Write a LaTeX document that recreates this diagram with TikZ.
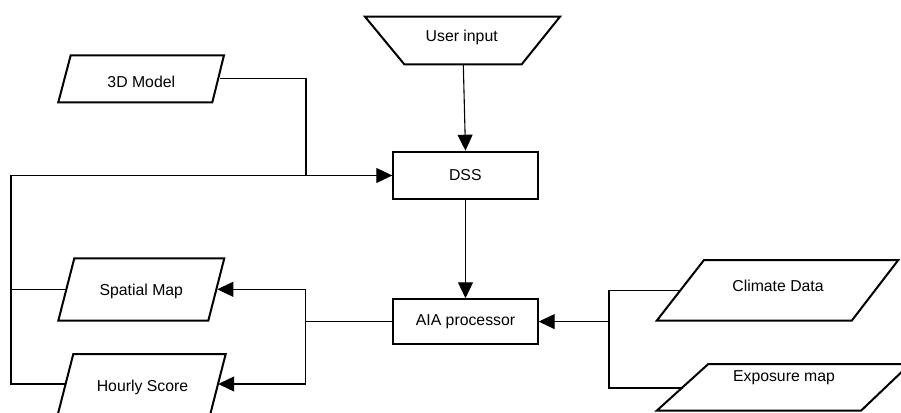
\documentclass[tikz,border=0pt]{standalone}
\usepackage{fontspec}
\setmainfont{Liberation Sans}
\usetikzlibrary{arrows.meta}

\begin{document}
\begin{tikzpicture}[x=1pt,y=-1pt,
  shapeline/.style={draw=black,line width=2pt,fill=white,line join=miter},
  box/.style={shapeline,rectangle,inner sep=0pt},
  label/.style={font=\fontsize{15.8}{18}\selectfont,anchor=base,inner sep=0pt},
  wire/.style={draw=black,line width=1.1pt},
  arr/.style={wire,-{Triangle[length=16pt,width=15pt]}}]

\useasboundingbox (0,0) rectangle (901,412);
\clip (0,0) rectangle (901,412);

% input / output shapes
\draw[shapeline] (365,16.7) -- (560,16.7) -- (521.7,64.3) -- (404.3,64.3) -- cycle;
\draw[shapeline] (70.7,55.3) -- (224,55.3) -- (212.3,102.3) -- (58.3,102.3) -- cycle;
\draw[shapeline] (74.3,258.3) -- (224.3,258.3) -- (208.3,320.7) -- (58.3,320.7) -- cycle;
\draw[shapeline] (73.3,354) -- (225.7,354) -- (209.7,416.4) -- (57.3,416.4) -- cycle;
\draw[shapeline] (704,260) -- (898.3,260) -- (851.7,320.7) -- (656.7,320.7) -- cycle;
\draw[shapeline] (708.3,364) -- (910,364) -- (861,410.7) -- (656.7,410.7) -- cycle;

% process boxes
\node[box,minimum width=144.4pt,minimum height=47.6pt] (dss) at (465.5,175.5) {};
\node[box,minimum width=144.4pt,minimum height=44.7pt] (aia) at (465.5,321.6) {};

% texts
\node[label] (user) at (461.7,41.7) {User input};
\node[label] (model) at (141.3,87.7) {3D Model};
\node[label] (dsst) at (465.3,180.9) {DSS};
\node[label] (aiat) at (465.5,325.2) {AIA processor};
\node[label] (spatial) at (141.3,295.7) {Spatial Map};
\node[label] (hourly) at (142.5,391.7) {Hourly Score};
\node[label] (climate) at (778,291.7) {Climate Data};
\node[label] (exposure) at (784,381) {Exposure map};

% connection points on the slanted edges
\coordinate (user-s) at (463.3,64.3);
\coordinate (model-e) at (220,78.7);
\coordinate (spatial-e) at (217.3,289.3);
\coordinate (spatial-w) at (66.4,289.3);
\coordinate (hourly-e) at (218.2,384);
\coordinate (hourly-w) at (65.8,384);
\coordinate (climate-w) at (680,290.7);
\coordinate (exposure-w) at (682.5,388);
\coordinate (loop) at (11,175.5);
\coordinate (mjoin) at (306,175.5);
\coordinate (ljoin) at (305.7,321.6);
\coordinate (rjoin) at (609,321.6);

% connectors
\draw[arr] (user-s) -- (dss.north);
\draw[wire] (model-e) -| (mjoin);
\draw[arr] (hourly-w) -| (loop) -- (dss.west);
\draw[wire] (spatial-w) -- (spatial-w -| loop);
\draw[arr] (dss.south) -- (aia.north);
\draw[wire] (aia.west) -- (ljoin);
\draw[arr] (ljoin) |- (spatial-e);
\draw[arr] (ljoin) |- (hourly-e);
\draw[wire] (climate-w) -| (rjoin) |- (exposure-w);
\draw[arr] (rjoin) -- (aia.east);

\end{tikzpicture}
\end{document}
